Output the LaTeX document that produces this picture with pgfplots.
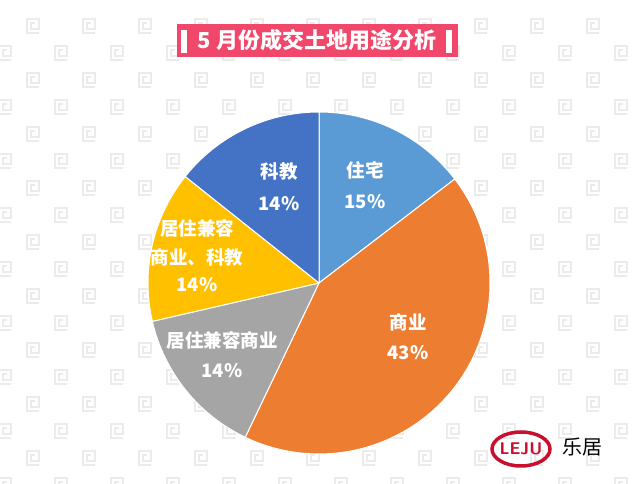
\documentclass[border=0pt]{standalone}
\usepackage{fontspec}
\setmainfont{Noto Sans CJK SC}
\usepackage{pgfplots}
\pgfplotsset{compat=1.18}
\usepackage{pgfplotstable}

\definecolor{pie0}{HTML}{5B9BD5}% 住宅
\definecolor{pie1}{HTML}{ED7D31}% 商业
\definecolor{pie2}{HTML}{A5A5A5}% 居住兼容商业
\definecolor{pie3}{HTML}{FFC000}% 居住兼容商业、科教
\definecolor{pie4}{HTML}{4472C4}% 科教
\definecolor{titlered}{HTML}{F0476A}
\definecolor{iconc}{HTML}{EBEBEB}
\definecolor{lejured}{HTML}{C8102E}

% share of each use (%), clockwise from 12 o'clock
\pgfplotstableread{
id value
0 14.6
1 42.5
2 14.3
3 14.3
4 14.3
}\piedata

% start / end angle of each slice
\gdef\cumsum{0}%
\foreach \i in {0,...,4}{%
  \pgfplotstablegetelem{\i}{value}\of\piedata
  \pgfmathsetmacro\s{90-3.6*\cumsum}%
  \pgfmathsetmacro\newcum{\cumsum+\pgfplotsretval}%
  \pgfmathsetmacro\e{90-3.6*\newcum}%
  \expandafter\xdef\csname pieS\i\endcsname{\s}%
  \expandafter\xdef\csname pieE\i\endcsname{\e}%
  \xdef\cumsum{\newcum}%
}

\newcommand\bgicon[2]{%
  \draw[iconc, line width=1.1pt, shift={(#1pt,#2pt)}]
    (6pt,-7pt) -- (-6pt,-7pt) -- (-6pt,7pt) -- (6pt,7pt) -- (6pt,-3pt)
    -- (-2pt,-3pt) -- (-2pt,3pt) -- (2pt,3pt);}

\tikzset{lbl/.style={white, font=\bfseries\fontsize{18.5}{18.5}\selectfont}}

\begin{document}
\begin{tikzpicture}
\useasboundingbox (0,0) rectangle (640pt,484pt);
\fill[white] (0,0) rectangle (640pt,484pt);

% background pattern
\begin{scope}
\clip (0,0) rectangle (640pt,484pt);
\foreach \r in {0,...,9}{
  \foreach \c in {0,...,11}{
    \pgfmathsetmacro\xa{33+56*\c}
    \pgfmathsetmacro\ya{484-(26+54*\r)}
    \pgfmathsetmacro\xb{5+56*\c}
    \pgfmathsetmacro\yb{484-(53+54*\r)}
    \bgicon{\xa}{\ya}
    \bgicon{\xb}{\yb}
  }
}
\end{scope}

% title
\fill[titlered] (177pt,427pt) rectangle (458pt,460pt);
\fill[white] (181pt,431pt) rectangle (187pt,454pt);
\fill[white] (446pt,431pt) rectangle (452pt,454pt);
\node[white, font=\bfseries\fontsize{22}{22}\selectfont] at (317pt,443.5pt) {5 月份成交土地用途分析};

\begin{axis}[
  x=1pt, y=1pt,
  xmin=0, xmax=640, ymin=0, ymax=484,
  scale only axis,
  hide axis,
  clip=false,
  at={(0,0)}, anchor=south west,
]
\pgfplotsinvokeforeach{0,...,4}{
  \filldraw[fill=pie#1, draw=white, line width=1pt, line join=round]
    (axis cs:319,201) -- ++(\csname pieS#1\endcsname:171pt)
    arc[start angle=\csname pieS#1\endcsname, end angle=\csname pieE#1\endcsname, radius=171pt]
    -- cycle;
}
\node[lbl] at (axis cs:365,314) {住宅};
\node[lbl] at (axis cs:365,282) {15\%};
\node[lbl] at (axis cs:408,162) {商业};
\node[lbl] at (axis cs:408,131) {43\%};
\node[lbl] at (axis cs:222,144) {居住兼容商业};
\node[lbl] at (axis cs:222,113) {14\%};
\node[lbl] at (axis cs:197,256) {居住兼容};
\node[lbl] at (axis cs:197,227) {商业、科教};
\node[lbl] at (axis cs:197,199) {14\%};
\node[lbl] at (axis cs:279,312) {科教};
\node[lbl] at (axis cs:279,280) {14\%};
\end{axis}

% logo
\draw[lejured, line width=3.5pt] (521pt,35pt) ellipse [x radius=29pt, y radius=17pt];
\node[lejured, font=\bfseries\sffamily\fontsize{17}{17}\selectfont, inner sep=0pt] at (521pt,35pt) {LEJU};
\node[black, font=\fontsize{20}{20}\selectfont, inner sep=0pt] at (582pt,37pt) {乐居};
\end{tikzpicture}
\end{document}
